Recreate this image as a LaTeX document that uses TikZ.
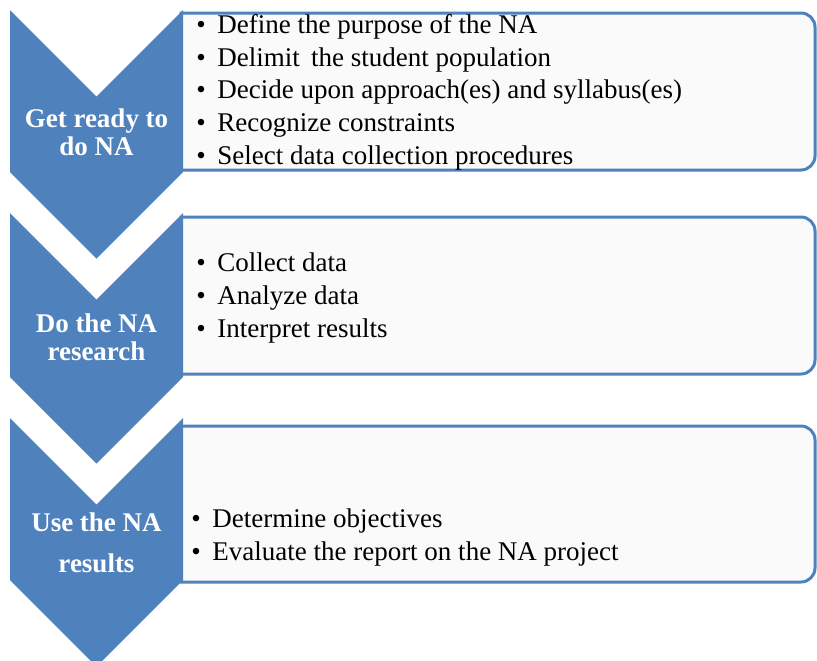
\documentclass[tikz,border=0pt]{standalone}
\usepackage{fontspec}
\setmainfont{Liberation Serif}
\usepackage{xcolor}
\definecolor{NABlue}{HTML}{4F81BD}
\definecolor{NAPaper}{HTML}{FAFAFA}
\usetikzlibrary{positioning}

\newcommand{\naitem}{\textbullet\hspace{0.29cm}}

\begin{document}
\begin{tikzpicture}[
    x=0.025cm, y=-0.025cm,
    stageArrow/.style={fill=NABlue, draw=none},
    stageLabel/.style={text=white,
    font=\fontsize{19.2}{19.9}\selectfont\bfseries,
    align=center,
    inner sep=0pt,
    anchor=base},
    taskBox/.style={draw=NABlue,
    fill=NAPaper,
    line width=0.075cm},
    taskList/.style={font=\fontsize{19.2}{23.2}\selectfont,
    align=left,
    inner sep=0pt,
    anchor=base west}
    ]
    \useasboundingbox (0,0) rectangle (817,660);
    % boxes with the tasks, left edges against the arrows
    \foreach \top/\bot in {13/170, 217/374, 426/582}
        \draw[taskBox] (181,\top) [rounded corners=0.35cm] -- (815,\top)
            -- (815,\bot) [sharp corners] -- (181,\bot) -- cycle;
    % the three stage arrows
    \foreach \top/\bot in {10/172, 213/377, 418/580}
        \fill[stageArrow] (10,\top) -- (96.5,\top+86.5) -- (183,\top)
            -- (183,\bot) -- (96.5,\bot+86.5) -- (10,\bot) -- cycle;
    % stage names (base = baseline of the last line)
    \node[stageLabel] (ready) at (96.5,155) {Get ready to\\do NA};
    \node[stageLabel] (research) at (96.5,360) {Do the NA\\research};
    \node[stageLabel, font=\fontsize{19.2}{28.5}\selectfont\bfseries] (use) at (96.5,572) {Use the NA\\results};
    % task lists
    \node[taskList] (readyTasks) at (196,164) {\naitem Define the purpose of the NA\\
        \naitem Delimit\, the student population\\
        \naitem Decide upon approach(es) and syllabus(es)\\
        \naitem Recognize constraints\\
        \naitem Select data collection procedures};
    \node[taskList, font=\fontsize{19.2}{23.4}\selectfont] (researchTasks) at (196,337) {\naitem Collect data\\
        \naitem Analyze data\\
        \naitem Interpret results};
    \node[taskList, font=\fontsize{19.2}{23.4}\selectfont] (useTasks) at (191,560) {\naitem Determine objectives\\
        \naitem Evaluate the report on the NA project};
\end{tikzpicture}
\end{document}
